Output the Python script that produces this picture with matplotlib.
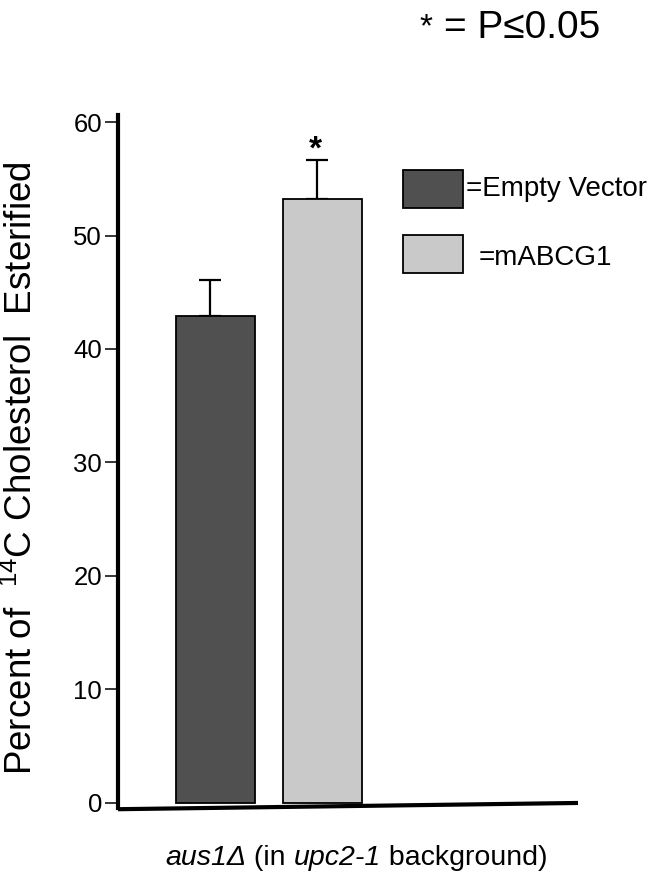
import matplotlib
matplotlib.use('Agg')
import matplotlib.pyplot as plt
from matplotlib.patches import Rectangle

plt.rcParams['font.family'] = ['Liberation Sans', 'DejaVu Sans']
plt.rcParams['mathtext.fontset'] = 'custom'
plt.rcParams['mathtext.rm'] = 'Liberation Sans'
plt.rcParams['mathtext.it'] = 'Liberation Sans:italic'

# esterification data
groups = ['Empty Vector', 'mABCG1']
means = [42.9, 53.2]
sem = [3.2, 3.45]
colors = ['#505050', '#c9c9c9']
significant = [False, True]
yticks = [0, 10, 20, 30, 40, 50, 60]

W, H = 659, 882
fig = plt.figure(figsize=(W / 100, H / 100), dpi=100)

# axes box placed in pixel terms
left, right = 118, 578
top, bottom = 115.2, 807.5
ax = fig.add_axes([left / W, 1 - bottom / H, (right - left) / W, (bottom - top) / H])

x = list(range(len(groups)))
ax.bar(x, means, width=0.73, color=colors, edgecolor='black', linewidth=1.3, zorder=2)
ax.errorbar([p - 0.055 for p in x], means, yerr=[[0] * len(sem), sem], fmt='none',
            ecolor='black', elinewidth=1.6, capsize=8, capthick=1.6, zorder=1)
for p, m, s, sig in zip(x, means, sem, significant):
    if sig:
        ax.text(p - 0.07, m + s + 0.9, '*', ha='center', va='center',
                fontsize=24, fontweight='bold')

ax.set_xlim(-0.911, 3.388)
ax.set_ylim(-0.4, 60.6)
ax.set_yticks(yticks)
ax.set_xticks([])
ax.tick_params(axis='y', direction='out', length=9.5, width=1.1, labelsize=18.5, pad=2)
for side in ['top', 'right', 'bottom']:
    ax.spines[side].set_visible(False)
ax.spines['left'].set_linewidth(3)

# slightly tilted baseline
ax.plot([-0.911, 3.388], [-0.55, 0.0], color='black', linewidth=3,
        solid_capstyle='butt', clip_on=False, zorder=3)

ax.set_ylabel(r'Percent of  $^{14}$C Cholesterol  Esterified', fontsize=26.5, labelpad=0)
ax.yaxis.set_label_coords(-0.17, 0.49)

# x label in pieces so the gene names are italic
pieces = [('aus1Δ', 'italic'), (' (in ', 'normal'), ('upc2-1', 'italic'),
          (' background)', 'normal')]
renderer = fig.canvas.get_renderer()
texts = []
for s, style in pieces:
    t = fig.text(0, 1 - 865 / H, s, fontsize=20.5, fontstyle=style, va='baseline', ha='left')
    texts.append(t)
widths = [t.get_window_extent(renderer).width for t in texts]
xpos = 356 - sum(widths) / 2
for t, w in zip(texts, widths):
    t.set_x(xpos / W)
    xpos += w

# legend boxes
legend_y = [189, 254]
for (yc, c) in zip(legend_y, colors):
    fig.patches.append(Rectangle((403 / W, 1 - (yc + 19) / H), 60 / W, 38 / H,
                                 transform=fig.transFigure, facecolor=c,
                                 edgecolor='black', linewidth=1.3))
fig.text(466 / W, 1 - 189 / H, '=Empty Vector', ha='left', va='center', fontsize=20)
fig.text(479 / W, 1 - 258 / H, '=mABCG1', ha='left', va='center', fontsize=20)

# significance key
fig.text(426 / W, 1 - 28 / H, '*', ha='center', va='center', fontsize=24)
fig.text(444 / W, 1 - 38 / H, '= P≤0.05', ha='left', va='baseline', fontsize=28)

fig.savefig('out.png', dpi=100)
